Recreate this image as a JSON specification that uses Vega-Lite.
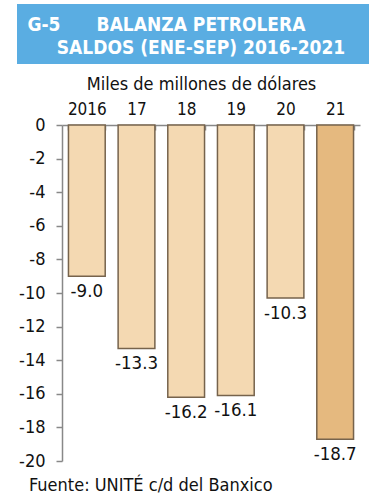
{
  "$schema": "https://vega.github.io/schema/vega-lite/v6.json",
  "padding": {"left": 17, "top": 4, "right": 0, "bottom": 0},
  "background": "white",
  "config": {
    "font": "DejaVu Sans Condensed, Roboto, sans-serif",
    "view": {"stroke": null},
    "locale": {"number": {"decimal": ".", "thousands": ",", "grouping": [3], "currency": ["$", ""], "minus": "-"}}
  },
  "title": {
    "text": "Fuente: UNITÉ c/d del Banxico",
    "orient": "bottom",
    "anchor": "start",
    "frame": "bounds",
    "fontSize": 18,
    "fontWeight": "normal",
    "color": "#111",
    "dx": 12,
    "offset": 7
  },
  "spacing": 12,
  "vconcat": [
    {
      "width": 352,
      "height": 60,
      "view": {"fill": "#5aade2", "stroke": null},
      "data": {"values": [
        {"col": "num", "line": "1", "label": "G-5"},
        {"col": "main", "line": "1", "label": "BALANZA PETROLERA"},
        {"col": "main", "line": "2", "label": "SALDOS (ENE-SEP) 2016-2021"}
      ]},
      "mark": {"type": "text", "color": "white", "fontSize": 19, "fontWeight": "bold", "baseline": "middle", "align": "center"},
      "encoding": {
        "x": {"field": "col", "type": "nominal", "scale": {"type": "point", "domain": ["num", "main"], "range": [27, 184], "padding": 0}, "axis": null},
        "y": {"field": "line", "type": "ordinal", "scale": {"type": "point", "domain": ["1", "2"], "range": [21, 44], "padding": 0}, "axis": null},
        "text": {"field": "label"}
      }
    },
    {
      "width": 343,
      "height": 336,
      "title": {"text": "Miles de millones de dólares", "fontSize": 18, "fontWeight": "normal", "color": "#111", "anchor": "middle", "dx": 13, "offset": 6},
      "data": {"values": [
        {"year": "2016", "v": -9.0},
        {"year": "17", "v": -13.3},
        {"year": "18", "v": -16.2},
        {"year": "19", "v": -16.1},
        {"year": "20", "v": -10.3},
        {"year": "21", "v": -18.7}
      ]},
      "encoding": {
        "x": {"field": "year", "type": "nominal", "sort": null,
          "scale": {"range": [45, 343], "paddingInner": 0.26, "paddingOuter": 0.13},
          "axis": {"orient": "top", "title": null, "labelAngle": 0, "labelFontSize": 17, "labelColor": "#111", "labelPadding": 12,
            "tickBand": "extent", "tickSize": -5, "tickColor": "#888", "domainColor": "#888", "domainWidth": 1.5, "tickWidth": 1.5}},
        "y": {"field": "v", "type": "quantitative",
          "scale": {"domain": [-20, 0], "nice": false},
          "axis": {"title": null, "offset": -45, "values": [0, -2, -4, -6, -8, -10, -12, -14, -16, -18, -20], "format": "d", "labelFontSize": 18, "labelColor": "#111",
            "tickSize": 6, "labelPadding": 11, "tickColor": "#888", "domainColor": "#888", "domainWidth": 1.5, "tickWidth": 1.5, "grid": false}}
      },
      "layer": [
        {
          "mark": {"type": "bar", "stroke": "#76634c", "strokeWidth": 1.5},
          "encoding": {
            "fill": {"condition": {"test": "datum.year === '21'", "value": "#e5b97f"}, "value": "#f4d9b2"}
          }
        },
        {
          "mark": {"type": "text", "baseline": "top", "dy": 6, "fontSize": 18.5, "color": "#111"},
          "encoding": {"text": {"field": "v", "type": "quantitative", "format": ".1f"}}
        }
      ]
    }
  ]
}
